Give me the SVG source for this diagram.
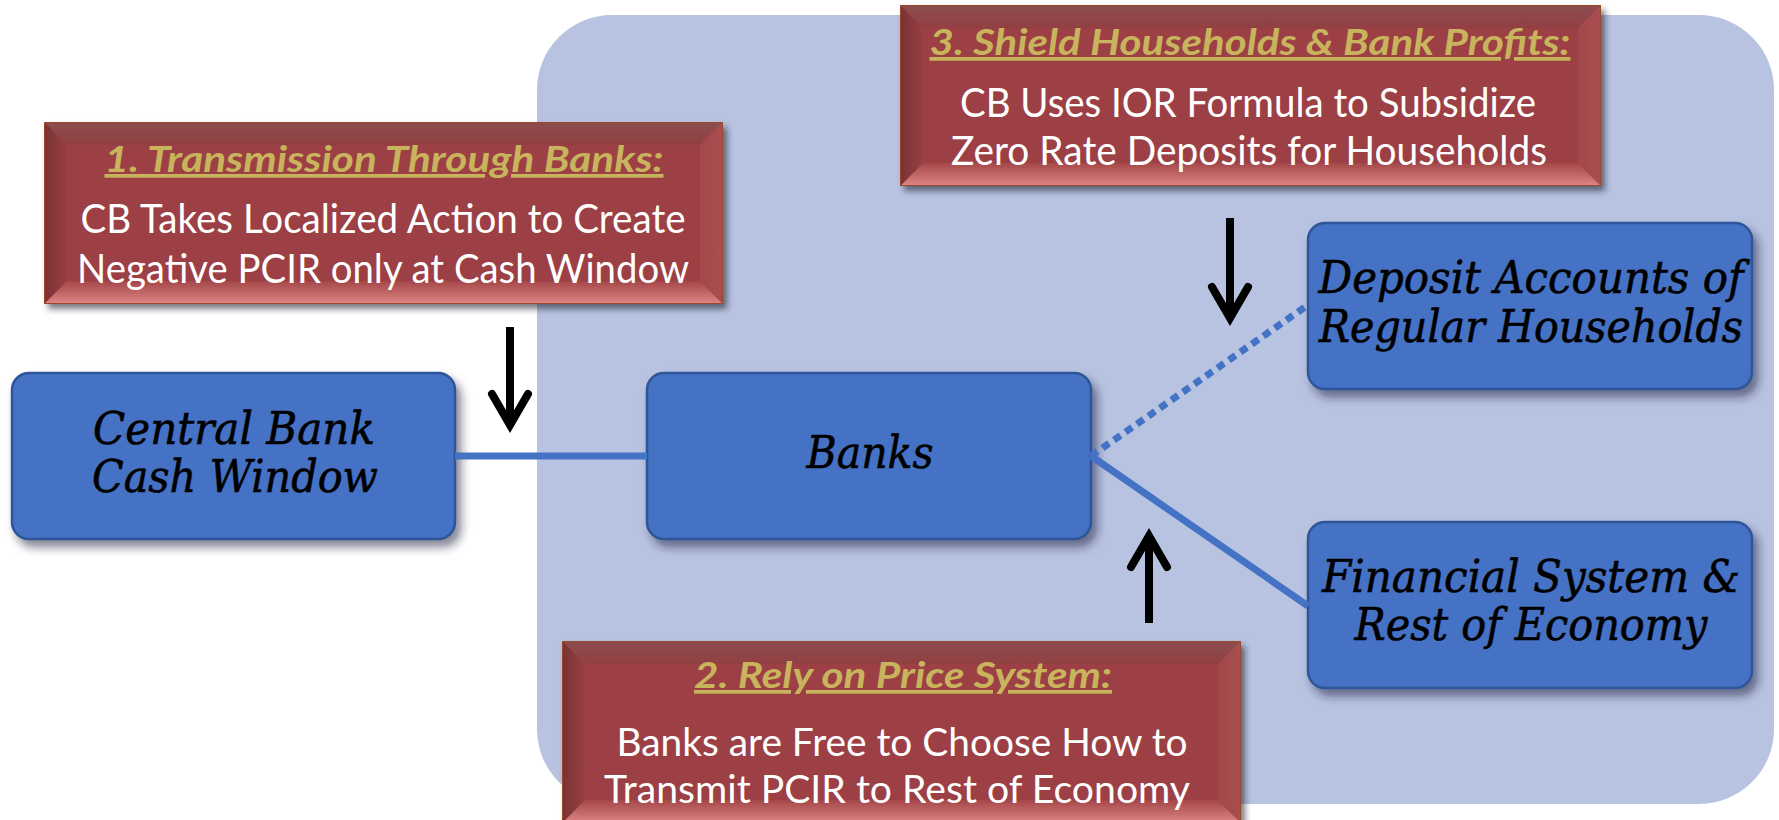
<svg xmlns="http://www.w3.org/2000/svg" width="1779" height="820" viewBox="0 0 1779 820">
<defs>
<style>
.bg{fill:#B8C3E1}
.node{fill:#4472C4;stroke:#2F5597;stroke-width:2.5;filter:url(#sh)}
.lbl{font-family:"DejaVu Serif","Liberation Serif",serif;font-style:italic;font-size:45px;fill:#000;text-anchor:middle;stroke:#000;stroke-width:0.6}
.rb{fill:#9C4144;stroke:#9A4A2A;stroke-width:2;filter:url(#shr)}
.bt{fill:url(#gTop)}
.bb{fill:url(#gBot)}
.bl{fill:url(#gLeft)}
.br{fill:url(#gRight)}
.ttl{font-family:Lato,"Open Sans",sans-serif;font-weight:bold;font-style:italic;font-size:37px;fill:#C8B45C;text-anchor:middle;text-decoration:underline}
.body{font-family:Lato,"Open Sans",sans-serif;font-size:41px;fill:#FFFFFF;text-anchor:middle}
.sm{font-size:39px}
.link{stroke:#4472C4;stroke-width:7;fill:none}
.dot{stroke-dasharray:8 6}
.arr{stroke:#000;stroke-width:8;fill:none;marker-end:url(#ah)}
</style>
<filter id="sh" x="-10%" y="-10%" width="130%" height="140%">
<feDropShadow dx="5" dy="7" stdDeviation="5" flood-color="#1A2040" flood-opacity="0.55"/>
</filter>
<filter id="shr" x="-10%" y="-10%" width="130%" height="140%">
<feDropShadow dx="4" dy="5" stdDeviation="3" flood-color="#1A1A2A" flood-opacity="0.6"/>
</filter>
<linearGradient id="gTop" x1="0" y1="0" x2="0" y2="1"><stop offset="0" stop-color="#8C4D4F"/><stop offset="1" stop-color="#923F42"/></linearGradient>
<linearGradient id="gBot" x1="0" y1="0" x2="0" y2="1"><stop offset="0" stop-color="#A44749"/><stop offset="1" stop-color="#DC8383"/></linearGradient>
<linearGradient id="gLeft" x1="0" y1="0" x2="1" y2="0"><stop offset="0" stop-color="#7A3234"/><stop offset="1" stop-color="#984043"/></linearGradient>
<linearGradient id="gRight" x1="0" y1="0" x2="1" y2="0"><stop offset="0" stop-color="#A2474A"/><stop offset="1" stop-color="#A84D50"/></linearGradient>
<marker id="ah" markerUnits="userSpaceOnUse" markerWidth="60" markerHeight="60" viewBox="-45 -30 60 60" refX="0" refY="0" orient="auto">
<path d="M-31,-18 L0,0 L-31,18" fill="none" stroke="#000" stroke-width="8" stroke-linecap="round" stroke-linejoin="miter"/>
</marker>
</defs>

<rect class="bg" x="537" y="15" width="1237" height="789" rx="75" ry="75"/>

<g id="node-central-bank">
<rect class="node" x="12" y="373" width="443" height="166" rx="17"/>
<text class="lbl" x="234" y="444" textLength="282" lengthAdjust="spacingAndGlyphs">Central Bank</text>
<text class="lbl" x="235" y="492" textLength="286" lengthAdjust="spacingAndGlyphs">Cash Window</text>
</g>

<g id="node-banks">
<rect class="node" x="647" y="373" width="444" height="166" rx="17"/>
<text class="lbl" x="870" y="468" textLength="127" lengthAdjust="spacingAndGlyphs">Banks</text>
</g>

<g id="node-deposit">
<rect class="node" x="1308" y="223" width="444" height="166" rx="17"/>
<text class="lbl" x="1531" y="293" textLength="425" lengthAdjust="spacingAndGlyphs">Deposit Accounts of</text>
<text class="lbl" x="1531" y="342" textLength="424" lengthAdjust="spacingAndGlyphs">Regular Households</text>
</g>

<g id="node-financial">
<rect class="node" x="1308" y="522" width="444" height="166" rx="17"/>
<text class="lbl" x="1531" y="592" textLength="418" lengthAdjust="spacingAndGlyphs">Financial System &amp;</text>
<text class="lbl" x="1531" y="640" textLength="353" lengthAdjust="spacingAndGlyphs">Rest of Economy</text>
</g>

<g id="note-1">
<rect class="rb" x="45" y="123" width="677" height="180"/>
<polygon class="bt" points="45,123 722,123 700,145 67,145"/>
<polygon class="bb" points="45,303 722,303 700,281 67,281"/>
<polygon class="bl" points="45,123 67,145 67,281 45,303"/>
<polygon class="br" points="722,123 700,145 700,281 722,303"/>
<text class="ttl" x="384" y="172" textLength="559" lengthAdjust="spacingAndGlyphs">1. Transmission Through Banks:</text>
<text class="body" x="383" y="233" textLength="605" lengthAdjust="spacingAndGlyphs">CB Takes Localized Action to Create</text>
<text class="body" x="383" y="283" textLength="612" lengthAdjust="spacingAndGlyphs">Negative PCIR only at Cash Window</text>
</g>

<g id="note-2">
<rect class="rb" x="563" y="642" width="677" height="180"/>
<polygon class="bt" points="563,642 1240,642 1218,664 585,664"/>
<polygon class="bb" points="563,822 1240,822 1218,800 585,800"/>
<polygon class="bl" points="563,642 585,664 585,800 563,822"/>
<polygon class="br" points="1240,642 1218,664 1218,800 1240,822"/>
<text class="ttl" x="903" y="688" textLength="418" lengthAdjust="spacingAndGlyphs">2. Rely on Price System:</text>
<text class="body sm" x="902" y="756" textLength="571" lengthAdjust="spacingAndGlyphs">Banks are Free to Choose How to</text>
<text class="body sm" x="897" y="803" textLength="586" lengthAdjust="spacingAndGlyphs">Transmit PCIR to Rest of Economy</text>
</g>

<g id="note-3">
<rect class="rb" x="901" y="6" width="699" height="179"/>
<polygon class="bt" points="901,6 1600,6 1578,28 923,28"/>
<polygon class="bb" points="901,185 1600,185 1578,163 923,163"/>
<polygon class="bl" points="901,6 923,28 923,163 901,185"/>
<polygon class="br" points="1600,6 1578,28 1578,163 1600,185"/>
<text class="ttl" x="1250" y="55" textLength="641" lengthAdjust="spacingAndGlyphs">3. Shield Households &amp; Bank Profits:</text>
<text class="body" x="1248" y="117" textLength="576" lengthAdjust="spacingAndGlyphs">CB Uses IOR Formula to Subsidize</text>
<text class="body" x="1249" y="165" textLength="596" lengthAdjust="spacingAndGlyphs">Zero Rate Deposits for Households</text>
</g>

<g id="connectors">
<line class="link" x1="455" y1="456" x2="647" y2="456"/>
<line class="link dot" x1="1091" y1="456" x2="1308" y2="305"/>
<line class="link" x1="1091" y1="456" x2="1308" y2="606"/>
<path class="arr" d="M510,327 V425"/>
<path class="arr" d="M1230,218 V318"/>
<path class="arr" d="M1149,623 V536"/>
</g>
</svg>
